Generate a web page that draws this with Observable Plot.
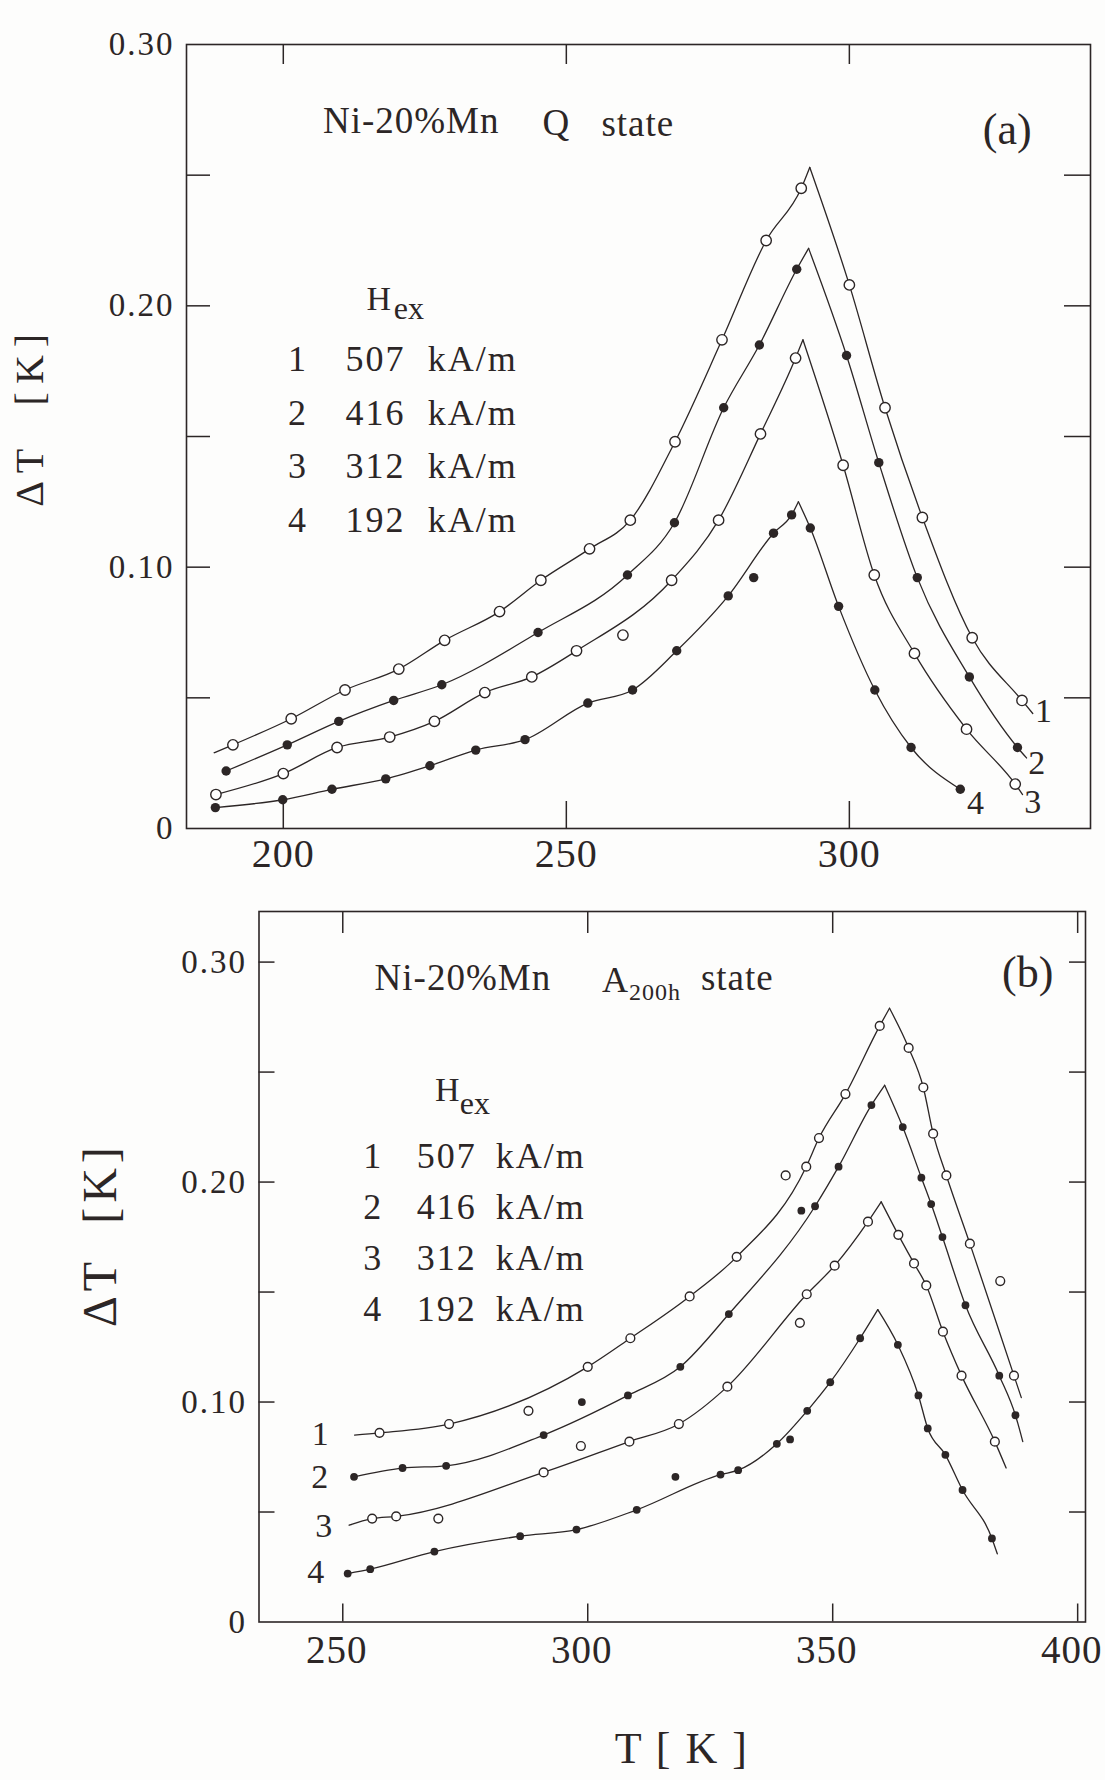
<!DOCTYPE html>
<html>
<head>
<meta charset="utf-8">
<script src="https://cdn.jsdelivr.net/npm/d3@7"></script>
<script src="https://cdn.jsdelivr.net/npm/@observablehq/plot@0.6"></script>
<style>
html, body { margin: 0; padding: 0; background: #fdfdfc; }
#wrap { position: relative; width: 1105px; height: 1780px; overflow: hidden; }
#pa, #pb { position: absolute; left: 0; }
#pa { top: 0; }
#pb { top: 880px; }
svg text { white-space: pre; }
g[aria-label="y-axis tick label"] text { letter-spacing: 2px; }
g[aria-label="x-axis tick label"] text { letter-spacing: 1px; }
g[aria-description="legend"] text { letter-spacing: 2px; }
g[aria-description="ylabel"] text { letter-spacing: 8px; }
g[aria-description="ylabelb"] text { letter-spacing: 5px; }
g[aria-description="xlabel"] text { letter-spacing: 2px; }
g[aria-description="title"] text { letter-spacing: 1px; }
</style>
</head>
<body>
<div id="wrap"><div id="pa"></div><div id="pb"></div></div>
<script>
// ---------------- Panel (a): Ni-20%Mn, Q state ----------------
const a1T = [191.1, 201.4, 210.9, 220.4, 228.5, 238.2, 245.5, 254.1, 261.3, 269.2, 277.5, 285.3, 291.5, 300.0, 306.3, 312.9, 321.7, 330.5];
const a1V = [0.032, 0.042, 0.053, 0.061, 0.072, 0.083, 0.095, 0.107, 0.118, 0.148, 0.187, 0.225, 0.245, 0.208, 0.161, 0.119, 0.073, 0.049];
const a1Off = [];
const a1Start = [187.8, 0.029], a1Peak = [293.0, 0.253], a1End = [332.4, 0.044];

const a2T = [189.9, 200.7, 209.8, 219.5, 228.0, 245.0, 260.8, 269.1, 277.8, 284.1, 290.7, 299.5, 305.2, 312.0, 321.2, 329.7];
const a2V = [0.022, 0.032, 0.041, 0.049, 0.055, 0.075, 0.097, 0.117, 0.161, 0.185, 0.214, 0.181, 0.140, 0.096, 0.058, 0.031];
const a2Off = [];
const a2Start = null, a2Peak = [292.8, 0.222], a2End = [331.3, 0.027];

const a3T = [188.1, 200.0, 209.5, 218.8, 226.7, 235.6, 243.9, 251.8, 260.0, 268.6, 276.9, 284.3, 290.5, 298.9, 304.4, 311.5, 320.7, 329.3];
const a3V = [0.013, 0.021, 0.031, 0.035, 0.041, 0.052, 0.058, 0.068, 0.074, 0.095, 0.118, 0.151, 0.180, 0.139, 0.097, 0.067, 0.038, 0.017];
const a3Off = [8];
const a3Start = null, a3Peak = [291.8, 0.187], a3End = [330.6, 0.013];

const a4T = [188.0, 199.9, 208.6, 218.1, 225.9, 234.0, 242.7, 253.8, 261.7, 269.5, 278.6, 283.1, 286.6, 289.8, 293.1, 298.1, 304.5, 310.9, 319.6];
const a4V = [0.008, 0.011, 0.015, 0.019, 0.024, 0.030, 0.034, 0.048, 0.053, 0.068, 0.089, 0.096, 0.113, 0.120, 0.115, 0.085, 0.053, 0.031, 0.015];
const a4Off = [11];
const a4Start = null, a4Peak = [291.0, 0.125], a4End = null;

// ---------------- Panel (b): Ni-20%Mn, A200h state ----------------
const b1T = [257.5, 271.7, 287.9, 300.0, 308.7, 320.8, 330.4, 340.4, 344.6, 347.2, 352.6, 359.6, 365.5, 368.5, 370.5, 373.2, 378.0, 384.2, 387.0];
const b1V = [0.086, 0.090, 0.096, 0.116, 0.129, 0.148, 0.166, 0.203, 0.207, 0.220, 0.240, 0.271, 0.261, 0.243, 0.222, 0.203, 0.172, 0.155, 0.112];
const b1Off = [2, 7, 17];
const b1Start = [252.4, 0.085], b1Peak = [361.6, 0.279], b1End = [388.5, 0.102];

const b2T = [252.3, 262.2, 271.1, 291.0, 298.8, 308.2, 318.9, 328.8, 343.6, 346.4, 351.2, 357.9, 364.3, 368.1, 370.1, 372.4, 377.1, 384.0, 387.3];
const b2V = [0.066, 0.070, 0.071, 0.085, 0.100, 0.103, 0.116, 0.140, 0.187, 0.189, 0.207, 0.235, 0.225, 0.202, 0.190, 0.175, 0.144, 0.112, 0.094];
const b2Off = [4, 8];
const b2Start = null, b2Peak = [360.6, 0.244], b2End = [388.8, 0.082];

const b3T = [256.0, 260.9, 269.5, 291.0, 298.6, 308.5, 318.6, 328.5, 343.3, 344.7, 350.4, 357.2, 363.4, 366.6, 369.1, 372.5, 376.3, 383.1];
const b3V = [0.047, 0.048, 0.047, 0.068, 0.080, 0.082, 0.090, 0.107, 0.136, 0.149, 0.162, 0.182, 0.176, 0.163, 0.153, 0.132, 0.112, 0.082];
const b3Off = [2, 4, 8];
const b3Start = [251.3, 0.044], b3Peak = [359.9, 0.191], b3End = [385.4, 0.070];

const b4T = [251.0, 255.6, 268.7, 286.2, 297.7, 310.0, 317.9, 327.1, 330.7, 338.6, 341.3, 344.8, 349.5, 355.6, 363.3, 367.5, 369.4, 373.0, 376.5, 382.5];
const b4V = [0.022, 0.024, 0.032, 0.039, 0.042, 0.051, 0.066, 0.067, 0.069, 0.081, 0.083, 0.096, 0.109, 0.129, 0.126, 0.103, 0.088, 0.076, 0.060, 0.038];
const b4Off = [6, 10];
const b4Start = null, b4Peak = [359.2, 0.142], b4End = [383.6, 0.031];

// ---------------- Labels ----------------
const curveIds = ["1", "2", "3", "4"];
const fieldValues = ["507", "416", "312", "192"];
const fieldUnit = "kA/m";
const alloy = "Ni-20%Mn";
const aXTicks = [200, 250, 300];
const bXTicks = [250, 300, 350, 400];
const yLabelTicks = [0, 0.10, 0.20, 0.30];
const yMinorTicks = [0.05, 0.10, 0.15, 0.20, 0.25, 0.30];

// ---------------- Helpers ----------------
const ink = "#2c2626";
const serif = "'Liberation Serif', 'DejaVu Serif', serif";

function curveMarks(T, V, off, start, peak, end, open, r) {
  const pts = T.map((t, i) => ({T: t, V: V[i]}));
  const on = pts.filter((d, i) => !off.includes(i));
  const pk = {T: peak[0], V: peak[1]};
  const up = [...(start ? [{T: start[0], V: start[1]}] : []), ...on.filter(d => d.T < pk.T), pk];
  const dn = [pk, ...on.filter(d => d.T > pk.T), ...(end ? [{T: end[0], V: end[1]}] : [])];
  return [
    Plot.line(up, {x: "T", y: "V", curve: "monotone-x", stroke: ink, strokeWidth: 1.3}),
    Plot.line(dn, {x: "T", y: "V", curve: "monotone-x", stroke: ink, strokeWidth: 1.3}),
    Plot.dot(pts, {x: "T", y: "V", r: open ? r : r - 0.5, fill: open ? "#ffffff" : ink, stroke: ink, strokeWidth: open ? 1.4 : 0})
  ];
}

function txt(s, x, y, opts) {
  return Plot.text([s], Object.assign({x: () => x, y: () => y, text: d => d, fill: ink, fontFamily: serif}, opts));
}

// ---------------- Panel (a) ----------------
const aW = 1105, aH = 880, aML = 186, aMR = 15, aMT = 44, aMB = 52;
const aPW = aW - aML - aMR, aPH = aH - aMT - aMB;

const plotA = Plot.plot({
  width: aW, height: aH,
  marginLeft: aML, marginRight: aMR, marginTop: aMT, marginBottom: aMB,
  x: {domain: [182.9, 342.6]},
  y: {domain: [0, 0.30]},
  style: {fontFamily: serif, color: ink, background: "transparent", overflow: "visible"},
  marks: [
    Plot.frame({stroke: ink, strokeWidth: 1.6}),
    Plot.tickY(yMinorTicks.slice(0, 5), {y: d => d, insetRight: aPW - 24, stroke: ink, strokeWidth: 1.5}),
    Plot.tickY(yMinorTicks.slice(0, 5), {y: d => d, insetLeft: aPW - 26, stroke: ink, strokeWidth: 1.5}),
    Plot.tickX(aXTicks, {x: d => d, insetBottom: aPH - 20, stroke: ink, strokeWidth: 1.5}),
    Plot.tickX(aXTicks, {x: d => d, insetTop: aPH - 27, stroke: ink, strokeWidth: 1.5}),
    Plot.axisX({anchor: "bottom", ticks: aXTicks, tickSize: 0, tickPadding: 10, fontSize: 40, label: null, fill: ink}),
    Plot.axisY({anchor: "left", ticks: yLabelTicks, tickFormat: d => d === 0 ? "0" : d.toFixed(2), tickSize: 0, tickPadding: 12, fontSize: 33, label: null, fill: ink}),
    ...curveMarks(a1T, a1V, a1Off, a1Start, a1Peak, a1End, true, 5.2),
    ...curveMarks(a2T, a2V, a2Off, a2Start, a2Peak, a2End, false, 5.2),
    ...curveMarks(a3T, a3V, a3Off, a3Start, a3Peak, a3End, true, 5.2),
    ...curveMarks(a4T, a4V, a4Off, a4Start, a4Peak, a4End, false, 5.2),
    txt(alloy, 207.0, 0.2706, {textAnchor: "start", fontSize: 37, ariaDescription: "title"}),
    txt("Q", 245.8, 0.2698, {textAnchor: "start", fontSize: 37, ariaDescription: "title"}),
    txt("state", 256.2, 0.2694, {textAnchor: "start", fontSize: 37, ariaDescription: "title"}),
    txt("(a)", 327.9, 0.2675, {textAnchor: "middle", fontSize: 44}),
    txt("H", 214.7, 0.2024, {textAnchor: "start", fontSize: 34}),
    txt("ex", 219.5, 0.1990, {textAnchor: "start", fontSize: 32}),
    Plot.text(curveIds, {x: () => 202.6, y: (d, i) => 0.1795 - i * 0.02055, text: d => d, textAnchor: "middle", fontSize: 36, fill: ink, ariaDescription: "legend"}),
    Plot.text(fieldValues, {x: () => 211.0, y: (d, i) => 0.1795 - i * 0.02055, text: d => d, textAnchor: "start", fontSize: 36, fill: ink, ariaDescription: "legend"}),
    Plot.text(fieldValues, {x: () => 225.5, y: (d, i) => 0.1795 - i * 0.02055, text: () => fieldUnit, textAnchor: "start", fontSize: 36, fill: ink, ariaDescription: "legend"}),
    Plot.text(curveIds, {x: (d, i) => [334.3, 333.1, 332.4, 322.3][i], y: (d, i) => [0.0448, 0.0249, 0.0100, 0.0096][i], text: d => d, textAnchor: "middle", fontSize: 34, fill: ink}),
    txt("ΔT  [K]", 155.3, 0.1577, {rotate: -90, textAnchor: "middle", fontSize: 40, ariaDescription: "ylabel"})
  ]
});
document.getElementById("pa").appendChild(plotA);

// ---------------- Panel (b) ----------------
const bW = 1105, bH = 900, bML = 258.5, bMR = 20, bMT = 31, bMB = 158.5;
const bPW = bW - bML - bMR, bPH = bH - bMT - bMB;

const plotB = Plot.plot({
  width: bW, height: bH,
  marginLeft: bML, marginRight: bMR, marginTop: bMT, marginBottom: bMB,
  x: {domain: [232.9, 401.6]},
  y: {domain: [0, 0.323]},
  style: {fontFamily: serif, color: ink, background: "transparent", overflow: "visible"},
  marks: [
    Plot.frame({stroke: ink, strokeWidth: 1.6}),
    Plot.tickY(yMinorTicks, {y: d => d, insetRight: bPW - 16, stroke: ink, strokeWidth: 1.5}),
    Plot.tickY(yMinorTicks, {y: d => d, insetLeft: bPW - 16, stroke: ink, strokeWidth: 1.5}),
    Plot.tickX(bXTicks, {x: d => d, insetBottom: bPH - 22, stroke: ink, strokeWidth: 1.5}),
    Plot.tickX(bXTicks, {x: d => d, insetTop: bPH - 18, stroke: ink, strokeWidth: 1.5}),
    Plot.axisX({anchor: "bottom", ticks: bXTicks, tickSize: 0, tickPadding: 13, dx: -6, fontSize: 39, label: null, fill: ink}),
    Plot.axisY({anchor: "left", ticks: yLabelTicks, tickFormat: d => d === 0 ? "0" : d.toFixed(2), tickSize: 0, tickPadding: 12, fontSize: 33, label: null, fill: ink}),
    ...curveMarks(b1T, b1V, b1Off, b1Start, b1Peak, b1End, true, 4.4),
    ...curveMarks(b2T, b2V, b2Off, b2Start, b2Peak, b2End, false, 4.4),
    ...curveMarks(b3T, b3V, b3Off, b3Start, b3Peak, b3End, true, 4.4),
    ...curveMarks(b4T, b4V, b4Off, b4Start, b4Peak, b4End, false, 4.4),
    txt(alloy, 256.5, 0.2927, {textAnchor: "start", fontSize: 37, ariaDescription: "title"}),
    txt("A", 302.9, 0.2916, {textAnchor: "start", fontSize: 36}),
    txt("200h", 308.4, 0.2864, {textAnchor: "start", fontSize: 24, ariaDescription: "title"}),
    txt("state", 323.1, 0.2925, {textAnchor: "start", fontSize: 37, ariaDescription: "title"}),
    txt("(b)", 389.8, 0.2952, {textAnchor: "middle", fontSize: 44}),
    txt("H", 268.8, 0.2416, {textAnchor: "start", fontSize: 34}),
    txt("ex", 273.9, 0.2357, {textAnchor: "start", fontSize: 32}),
    Plot.text(curveIds, {x: () => 256.2, y: (d, i) => 0.2116 - i * 0.0231, text: d => d, textAnchor: "middle", fontSize: 36, fill: ink, ariaDescription: "legend"}),
    Plot.text(fieldValues, {x: () => 265.1, y: (d, i) => 0.2116 - i * 0.0231, text: d => d, textAnchor: "start", fontSize: 36, fill: ink, ariaDescription: "legend"}),
    Plot.text(fieldValues, {x: () => 281.2, y: (d, i) => 0.2116 - i * 0.0231, text: () => fieldUnit, textAnchor: "start", fontSize: 36, fill: ink, ariaDescription: "legend"}),
    Plot.text(curveIds, {x: (d, i) => [245.4, 245.3, 246.1, 244.5][i], y: (d, i) => [0.0852, 0.0659, 0.0434, 0.0227][i], text: d => d, textAnchor: "middle", fontSize: 34, fill: ink}),
    txt("ΔT  [K]", 200.5, 0.1761, {rotate: -90, textAnchor: "middle", fontSize: 48, ariaDescription: "ylabelb"}),
    txt("T [ K ]", 319.2, -0.0575, {textAnchor: "middle", fontSize: 44, ariaDescription: "xlabel"})
  ]
});
document.getElementById("pb").appendChild(plotB);
</script>
</body>
</html>
